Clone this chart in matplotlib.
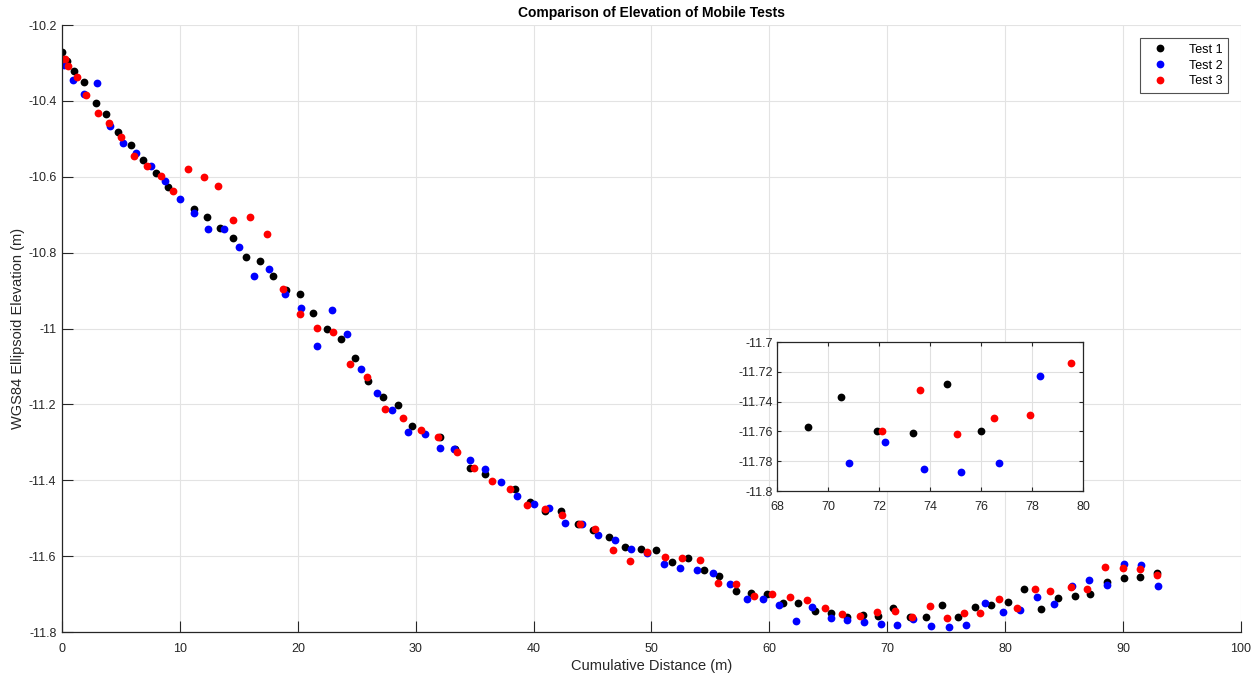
import numpy as np
import matplotlib
matplotlib.use("Agg")
import matplotlib.pyplot as plt
from matplotlib.ticker import FuncFormatter

plt.rcParams['font.family'] = ['Liberation Sans', 'DejaVu Sans']

# Test 1 (black)
t1_dist = [0.03, 0.4, 1.02, 1.9, 2.86, 3.74, 4.78, 5.86, 6.9, 7.95, 9.03, 11.18, 12.3,
           13.41, 14.49, 15.62, 16.75, 17.88, 19.0, 20.15, 21.3, 22.47, 23.66, 24.81,
           25.95, 27.19, 28.46, 29.68, 32.09, 33.34, 34.58, 35.88, 38.46, 39.73, 41.0,
           42.36, 43.74, 45.0, 46.38, 47.77, 49.07, 50.4, 51.78, 53.08, 54.44, 55.75,
           57.16, 58.4, 59.8, 61.12, 62.42, 63.84, 65.2, 66.58, 67.97, 69.2, 70.5, 71.9,
           73.3, 74.65, 76.0, 77.48, 78.78, 80.2, 81.6, 83.05, 84.5, 85.9, 87.2, 88.68,
           90.07, 91.45, 92.9]
t1_elev = [-10.272, -10.294, -10.321, -10.349, -10.406, -10.435, -10.483, -10.515, -10.555,
           -10.590, -10.626, -10.684, -10.705, -10.735, -10.762, -10.811, -10.823, -10.862,
           -10.898, -10.908, -10.958, -11.002, -11.028, -11.078, -11.138, -11.181, -11.202,
           -11.256, -11.287, -11.318, -11.369, -11.383, -11.424, -11.457, -11.480, -11.480,
           -11.515, -11.531, -11.549, -11.575, -11.580, -11.585, -11.615, -11.605, -11.637,
           -11.652, -11.691, -11.698, -11.700, -11.724, -11.724, -11.745, -11.749, -11.761,
           -11.756, -11.757, -11.737, -11.760, -11.761, -11.728, -11.760, -11.733, -11.728,
           -11.721, -11.686, -11.740, -11.710, -11.705, -11.700, -11.667, -11.658, -11.655,
           -11.644]

# Test 2 (blue)
t2_dist = [0.2, 0.9, 1.9, 2.94, 4.1, 5.2, 6.3, 7.55, 8.74, 9.99, 11.18, 12.39, 13.7, 14.97,
           16.27, 17.55, 18.93, 20.29, 21.59, 22.86, 24.16, 25.38, 26.74, 27.99, 29.31,
           30.81, 32.03, 33.26, 34.58, 35.88, 37.21, 38.62, 40.0, 41.28, 42.7, 44.1, 45.47,
           46.89, 48.24, 49.58, 51.04, 52.43, 53.82, 55.26, 56.62, 58.06, 59.45, 60.84,
           62.28, 63.64, 65.2, 66.55, 68.0, 69.5, 70.8, 72.2, 73.75, 75.2, 76.7, 78.3, 79.8,
           81.27, 82.68, 84.15, 85.71, 87.15, 88.62, 90.1, 91.54, 92.98]
t2_elev = [-10.305, -10.345, -10.382, -10.354, -10.465, -10.512, -10.537, -10.572, -10.610,
           -10.658, -10.696, -10.738, -10.738, -10.785, -10.862, -10.844, -10.908, -10.945,
           -11.046, -10.950, -11.015, -11.108, -11.171, -11.214, -11.274, -11.277, -11.314,
           -11.318, -11.347, -11.371, -11.404, -11.441, -11.462, -11.473, -11.512, -11.515,
           -11.544, -11.557, -11.582, -11.591, -11.622, -11.632, -11.637, -11.645, -11.673,
           -11.713, -11.713, -11.728, -11.770, -11.735, -11.763, -11.769, -11.773, -11.778,
           -11.781, -11.767, -11.785, -11.787, -11.781, -11.723, -11.748, -11.743, -11.708,
           -11.727, -11.680, -11.663, -11.675, -11.621, -11.624, -11.680]

# Test 3 (red)
t3_dist = [0.0, 0.25, 0.54, 1.25, 2.04, 3.03, 4.0, 5.03, 6.1, 7.24, 8.38, 9.45, 10.67, 12.0,
           13.24, 14.54, 15.96, 17.38, 18.73, 20.2, 21.59, 22.95, 24.39, 25.86, 27.42,
           28.95, 30.48, 31.92, 33.47, 34.92, 36.44, 37.97, 39.45, 41.0, 42.44, 43.9, 45.25,
           46.72, 48.16, 49.6, 51.13, 52.6, 54.13, 55.66, 57.13, 58.69, 60.2, 61.74, 63.16,
           64.69, 66.13, 67.68, 69.14, 70.66, 72.1, 73.6, 75.05, 76.5, 77.9, 79.5, 81.04,
           82.49, 83.8, 85.57, 86.98, 88.45, 90.0, 91.43, 92.9]
t3_elev = [-10.290, -10.290, -10.308, -10.336, -10.384, -10.431, -10.459, -10.494, -10.544,
           -10.572, -10.597, -10.638, -10.580, -10.601, -10.624, -10.714, -10.705, -10.750,
           -10.895, -10.963, -10.998, -11.008, -11.094, -11.129, -11.211, -11.236, -11.268,
           -11.287, -11.325, -11.367, -11.402, -11.424, -11.464, -11.477, -11.492, -11.515,
           -11.529, -11.585, -11.612, -11.589, -11.602, -11.605, -11.610, -11.670, -11.673,
           -11.705, -11.700, -11.708, -11.716, -11.736, -11.752, -11.758, -11.747, -11.745,
           -11.760, -11.732, -11.762, -11.751, -11.749, -11.714, -11.737, -11.687, -11.692,
           -11.682, -11.687, -11.628, -11.630, -11.633, -11.650]

labels = ['Test 1', 'Test 2', 'Test 3']
colors = ['#000000', '#0000ff', '#ff0000']
# distance windows shown in the zoomed inset for each test
inset_windows = [(69.0, 76.5), (70.5, 78.5), (72.0, 80.0)]

axis_col = '#262626'
grid_col = '#e3e3e3'


def fmt(v, p):
    return '%g' % round(v, 2)


fig = plt.figure(figsize=(12.56, 6.74), dpi=100)
ax = fig.add_axes([0.0494, 0.0623, 0.9386, 0.9006])

series = [(t1_dist, t1_elev), (t2_dist, t2_elev), (t3_dist, t3_elev)]
for (x, y), lab, c in zip(series, labels, colors):
    ax.plot(x, y, 'o', color=c, markersize=5.6, markeredgewidth=0, label=lab)

ax.set_xlim(0, 100)
ax.set_ylim(-11.8, -10.2)
ax.set_xticks(np.arange(0, 101, 10))
ax.set_yticks(np.arange(-11.8, -10.19, 0.2))
ax.yaxis.set_major_formatter(FuncFormatter(fmt))
ax.spines['top'].set_visible(False)
ax.spines['right'].set_visible(False)
for s in ['left', 'bottom']:
    ax.spines[s].set_color(axis_col)
    ax.spines[s].set_linewidth(0.9)
ax.tick_params(direction='in', length=8, width=0.8, colors=axis_col, labelsize=9)
ax.tick_params(axis='x', pad=8)
ax.tick_params(axis='y', pad=4)
ax.grid(True, color=grid_col, linewidth=0.8)
ax.set_axisbelow(True)

ax.set_title('Comparison of Elevation of Mobile Tests', fontsize=10, fontweight='bold',
             color='#000000', pad=6)
ax.set_xlabel('Cumulative Distance (m)', fontsize=10.5, color=axis_col, labelpad=3)
ax.set_ylabel('WGS84 Ellipsoid Elevation (m)', fontsize=10.5, color=axis_col, labelpad=2)

leg = ax.legend(loc='upper right', fontsize=9, frameon=True, fancybox=False,
                edgecolor=axis_col, borderaxespad=1.05, handletextpad=1.2,
                labelspacing=0.3, handlelength=2.2, borderpad=0.45)
leg.get_frame().set_linewidth(0.8)

# inset zoom
axi = fig.add_axes([0.619, 0.2715, 0.2436, 0.221])
for (x, y), (lo, hi), c in zip(series, inset_windows, colors):
    x = np.array(x)
    y = np.array(y)
    m = (x >= lo) & (x <= hi)
    axi.plot(x[m], y[m], 'o', color=c, markersize=5.6, markeredgewidth=0)
axi.set_xlim(68, 80)
axi.set_ylim(-11.8, -11.7)
axi.set_xticks(np.arange(68, 81, 2))
axi.set_yticks(np.arange(-11.8, -11.699, 0.02))
axi.yaxis.set_major_formatter(FuncFormatter(fmt))
for s in axi.spines.values():
    s.set_color(axis_col)
    s.set_linewidth(0.9)
axi.tick_params(direction='in', length=3, width=0.8, colors=axis_col, labelsize=9,
                top=True, right=True)
axi.tick_params(axis='x', pad=7)
axi.grid(True, color='#e0e0e0', linewidth=0.8)
axi.set_axisbelow(True)

fig.savefig('out.png', dpi=100)
